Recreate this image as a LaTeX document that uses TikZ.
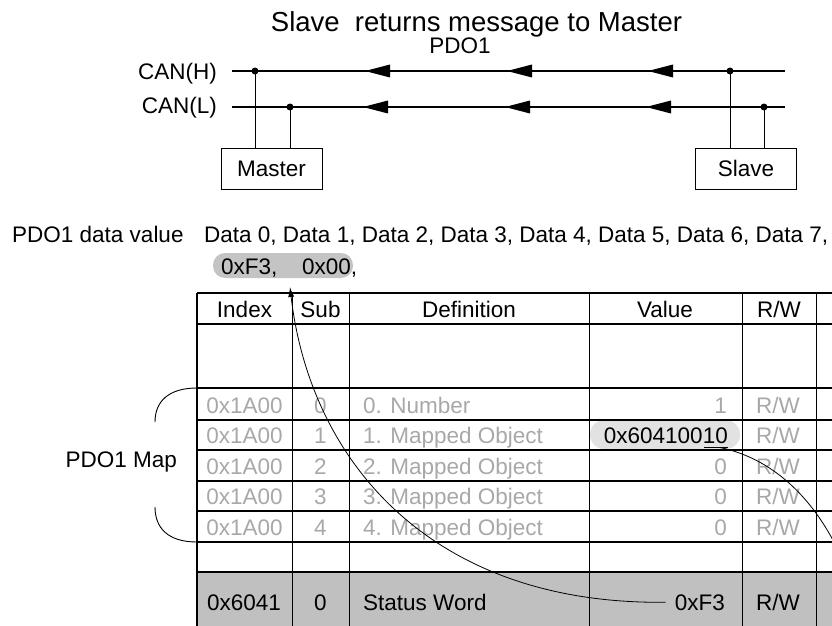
\documentclass[tikz,border=0pt]{standalone}
\usepackage{fontspec}
\setmainfont{Liberation Sans}
\usetikzlibrary{arrows.meta}
\definecolor{rowgray}{HTML}{C0C0C0}
\definecolor{pillgray}{HTML}{C4C4C4}
\definecolor{lightpill}{HTML}{E2E2E2}
\definecolor{fadetext}{HTML}{A8A8A8}
\begin{document}
\begin{tikzpicture}[x=1pt,y=-1pt,
  txt/.style={inner sep=0pt, font=\fontsize{22.5}{26}\selectfont},
  ttl/.style={inner sep=0pt, font=\fontsize{27.5}{32}\selectfont},
  fade/.style={txt, text=fadetext},
  bus/.style={line width=1.3pt},
  drop/.style={line width=0.9pt},
  dot/.style={fill=black},
  dev/.style={draw, line width=1pt, minimum width=101pt, minimum height=41pt, inner sep=0pt, txt},
  hline/.style={line width=1.6pt},
  vline/.style={line width=1pt},
  curve/.style={line width=0.8pt},
  pillbox/.style={inner sep=0pt, rounded corners=12pt},
]
\useasboundingbox (0,0) rectangle (832,626);
\clip (0,0) rectangle (832,626);

% ---- title
\node[ttl, anchor=base] (title) at (476.5,32) {Slave~ returns message to Master};
\node[txt, anchor=base] (pdo) at (460,54) {PDO1};

% ---- CAN bus
\node[txt, anchor=base east] (canh) at (217,79) {CAN(H)};
\node[txt, anchor=base east] (canl) at (217,113) {CAN(L)};
\coordinate (hL) at (232,71); \coordinate (hR) at (785,71);
\coordinate (lL) at (232,107); \coordinate (lR) at (785,107);
\draw[bus] (hL) -- (hR);
\draw[bus] (lL) -- (lR);
\foreach \x in {365,507,648} \fill (\x,71) -- ++(25,-6.5) -- ++(0,13) -- cycle;
\foreach \x in {363,505,646} \fill (\x,107) -- ++(25,-6.5) -- ++(0,13) -- cycle;

\node[dev] (master) at (271.5,168.5) {Master};
\node[dev] (slave) at (746,168.5) {Slave};
\coordinate (mh) at (255,71); \coordinate (ml) at (290,107);
\coordinate (sh) at (730,71); \coordinate (sl) at (764,107);
\draw[drop] (mh) -- (mh |- master.north);
\draw[drop] (ml) -- (ml |- master.north);
\draw[drop] (sh) -- (sh |- slave.north);
\draw[drop] (sl) -- (sl |- slave.north);
\foreach \p in {mh,ml,sh,sl} \fill[dot] (\p) circle (3.5);

% ---- data value
\node[txt, anchor=base west] (pdv) at (12,242) {PDO1 data value};
\node[txt, anchor=base west] (data) at (204,242) {Data 0, Data 1, Data 2, Data 3, Data 4, Data 5, Data 6, Data 7,};
\node[pillbox, fill=pillgray, minimum width=140pt, minimum height=25pt] (pill) at (283,265.5) {};
\node[txt, anchor=base west] (v1) at (221,274) {0xF3,};
\node[txt, anchor=base west] (v2) at (302,274) {0x00,};

% ---- table
\fill[rowgray] (197,572) rectangle (832,640);
\node[pillbox, rounded corners=14pt, fill=lightpill, minimum width=150pt, minimum height=29pt] (vpill) at (665,434.5) {};
\foreach \y in {293,324,388,420,450,481,511,542,572} \draw[hline] (197,\y) -- (832,\y);
\foreach \x in {292,349,589,742,816} \draw[vline] (\x,293) -- (\x,626);
\draw[line width=2pt] (197,293) -- (197,626);

% header
\node[txt, anchor=base] (hidx) at (244.5,317) {Index};
\node[txt, anchor=base] (hsub) at (320.5,317) {Sub};
\node[txt, anchor=base] (hdef) at (469,317) {Definition};
\node[txt, anchor=base] (hval) at (665,317) {Value};
\node[txt, anchor=base] (hrw) at (779,317) {R/W};

% mapping rows
\foreach \b/\s/\d in {413/0/0. Number, 443/1/1. Mapped Object, 474/2/2. Mapped Object, 504/3/3. Mapped Object, 535/4/4. Mapped Object}{
  \node[fade, anchor=base] at (244.5,\b) {0x1A00};
  \node[fade, anchor=base] at (320.5,\b) {\s};
  \node[fade, anchor=base west] at (363,\b) {\d};
  \node[fade, anchor=base] at (778,\b) {R/W};
}
\node[fade, anchor=base east] (val0) at (727,413) {1};
\node[txt, anchor=base east] (val1) at (728,443) {0x60410010};
\node[fade, anchor=base east] (val2) at (727,474) {0};
\node[fade, anchor=base east] (val3) at (727,504) {0};
\node[fade, anchor=base east] (val4) at (727,535) {0};
\draw[line width=1pt] (704,447.5) -- (728,447.5);

% status row
\node[txt, anchor=base] (sidx) at (244,610) {0x6041};
\node[txt, anchor=base] (ssub) at (320.5,610) {0};
\node[txt, anchor=base west] (sdef) at (363,610) {Status Word};
\node[txt, anchor=base east] (f3) at (725,610) {0xF3};
\node[txt, anchor=base] (srw) at (778,610) {R/W};

% ---- brace and label
\draw[line width=0.9pt] (197,388) .. controls (168,388) and (155,402) .. (155,422);
\draw[line width=0.9pt] (155,507) .. controls (155,528) and (168,542) .. (197,542);
\node[txt, anchor=base east] (mapl) at (177,467) {PDO1 Map};

% ---- curved connectors
\coordinate (ulend) at (720,447.5);
\coordinate (offr) at (845,565);
\draw[curve] (ulend) .. controls (770,458) and (815,495) .. (offr);
\coordinate (tipA) at (290,287);
\draw[curve, -{Latex[length=10pt,width=6pt]}] ([xshift=-9pt]f3.west) .. controls (430,605) and (310,460) .. (tipA);
\end{tikzpicture}
\end{document}
